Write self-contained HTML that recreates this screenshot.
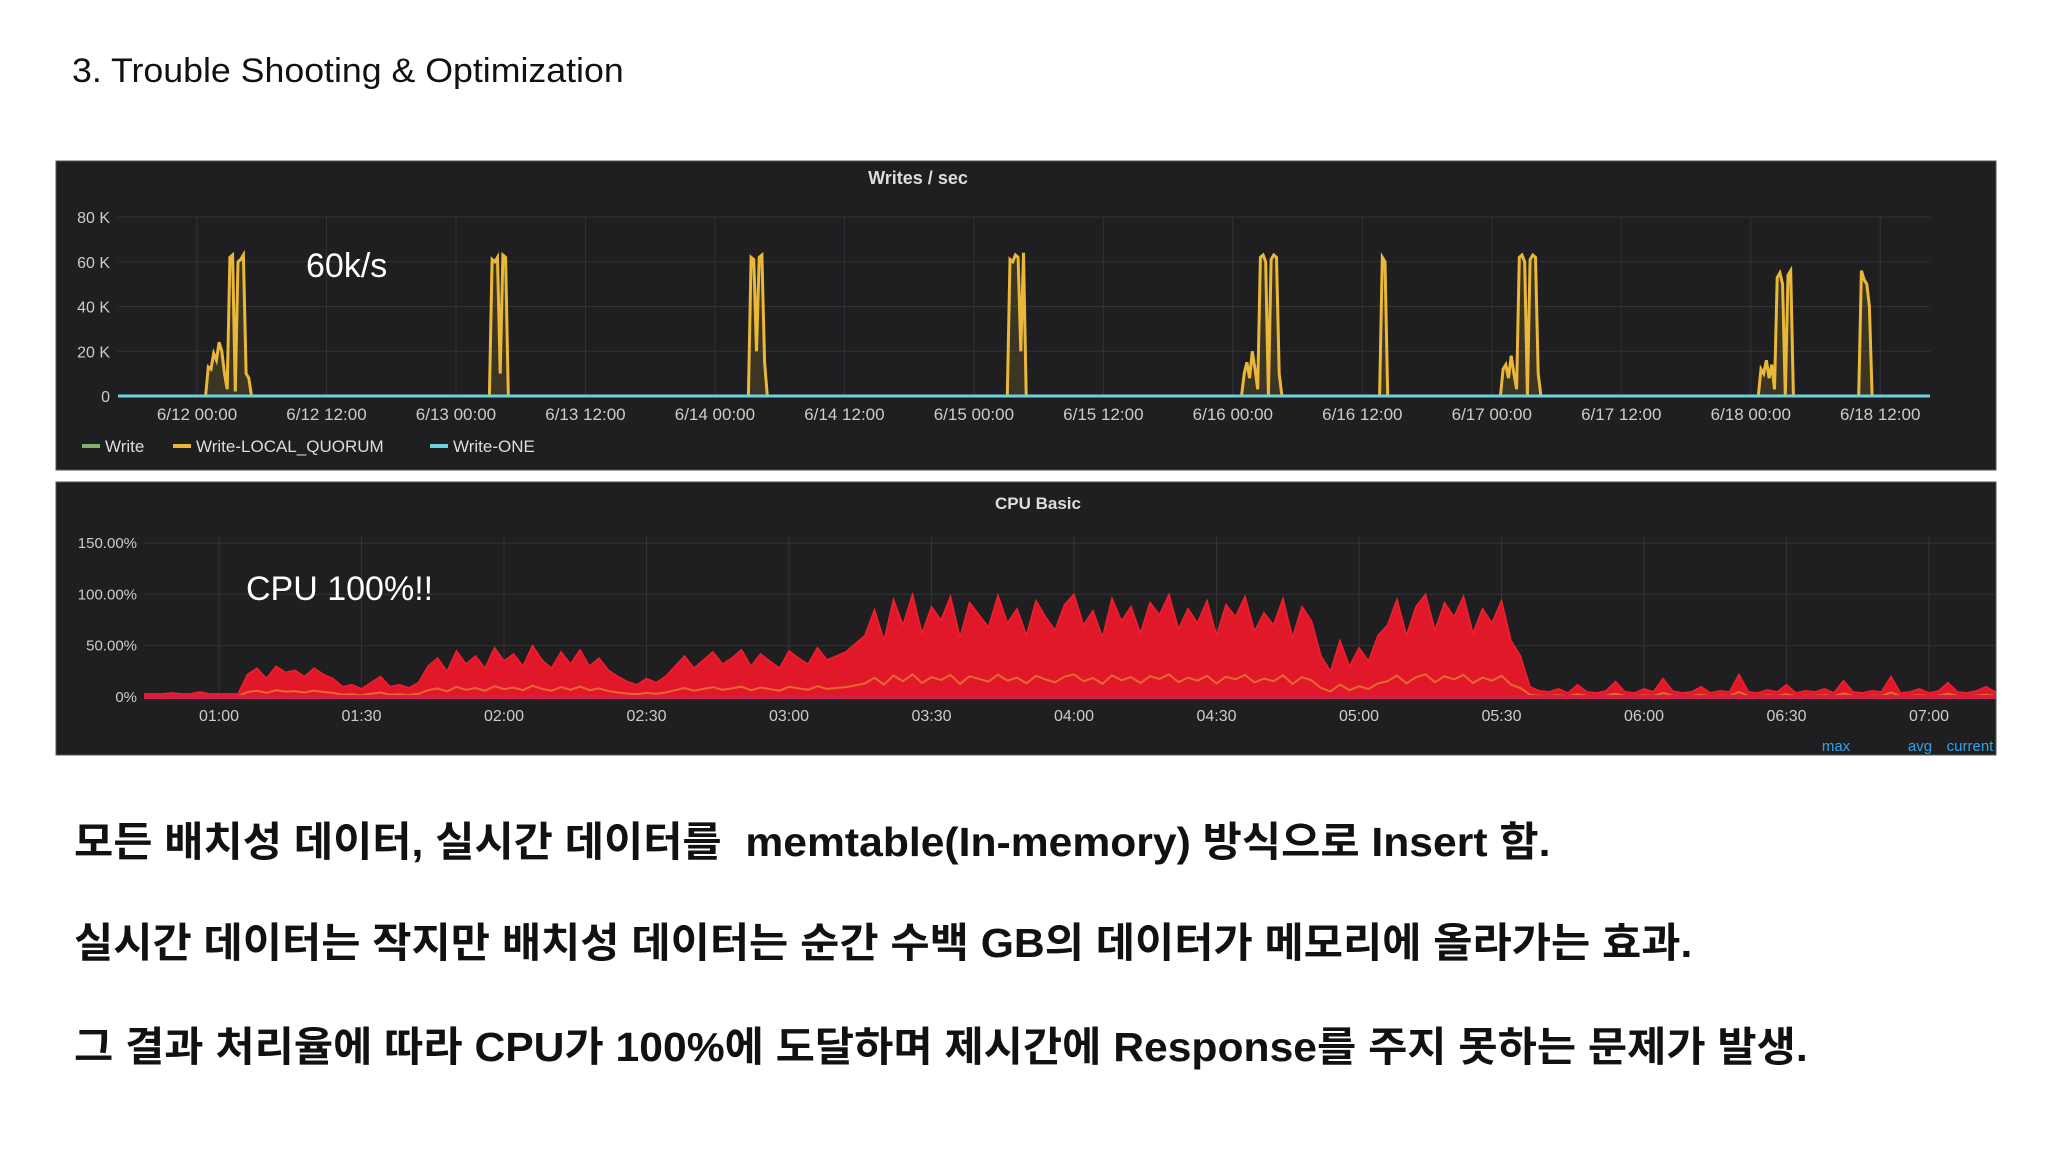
<!DOCTYPE html>
<html><head><meta charset="utf-8">
<style>
body{margin:0;width:2048px;height:1152px;background:#fff;position:relative;overflow:hidden;font-family:"Liberation Sans","Noto Sans CJK KR",sans-serif}
.t{position:absolute;white-space:nowrap}
.k{position:absolute;left:74px;font-weight:bold;font-size:41px;color:#111;font-family:"Liberation Sans","Noto Sans CJK KR",sans-serif;white-space:nowrap;line-height:1;transform-origin:0 0;transform:scaleX(1.04)}
</style></head><body>
<div class="t" style="left:72px;top:52px;font-size:34px;color:#111;transform-origin:0 0;transform:scaleX(1.05)">3. Trouble Shooting &amp; Optimization</div>
<svg id="c" width="2048" height="1152" style="position:absolute;left:0;top:0">
<defs><clipPath id="cpuclip"><rect x="144" y="482" width="1852" height="273"/></clipPath></defs>
</svg>
<div class="k" style="top:822px">모든 배치성 데이터, 실시간 데이터를&nbsp; memtable(In-memory) 방식으로 Insert 함.</div>
<div class="k" style="top:923px">실시간 데이터는 작지만 배치성 데이터는 순간 수백 GB의 데이터가 메모리에 올라가는 효과.</div>
<div class="k" style="top:1027px">그 결과 처리율에 따라 CPU가 100%에 도달하며 제시간에 Response를 주지 못하는 문제가 발생.</div>
<script>
const wTicksY=[0,20,40,60,80];
const wTickLabelsY=["0","20 K","40 K","60 K","80 K"];
const wTickLabelsX=["6/12 00:00","6/12 12:00","6/13 00:00","6/13 12:00","6/14 00:00","6/14 12:00","6/15 00:00","6/15 12:00","6/16 00:00","6/16 12:00","6/17 00:00","6/17 12:00","6/18 00:00","6/18 12:00"];
const burstStart=[0.8,27.1,51.1,75.1,96.8,109.6,120.8,144.7,154];
const burstValues=[
[0,13,12,19,16,24,20,10,3,62,63,2,60,61,63,10,8,0,0],
[0,61,60,62,10,63,62,0],
[0,62,61,20,62,63,15,0],
[0,61,60,63,62,20,64,0],
[0,10,15,8,20,12,3,62,63,60,0,61,63,62,10,0,0],
[0,62,60,0],
[0,12,14,8,18,10,3,62,63,60,0,61,63,62,10,0],
[0,12,10,16,8,14,3,53,55,50,0,54,56,0],
[0,56,52,50,40,0]];
const cTicksY=[0,50,100,150];
const cTickLabelsY=["0%","50.00%","100.00%","150.00%"];
const cTickLabelsX=["01:00","01:30","02:00","02:30","03:00","03:30","04:00","04:30","05:00","05:30","06:00","06:30","07:00"];
const cpuStartMin=44;
const cpuValues=[3,3,3,4,3,3,5,3,3,3,3,
22,28,18,30,24,26,20,28,22,18,
10,12,8,14,20,10,12,9,14,
30,38,25,45,32,40,28,48,35,42,30,50,36,28,44,32,46,30,38,26,20,
15,12,18,14,20,
30,40,28,36,44,32,38,46,30,42,35,28,45,38,32,48,36,40,44,52,
60,85,55,95,70,100,62,88,75,98,58,92,80,68,99,72,86,60,94,78,65,90,100,70,84,58,96,74,88,62,92,80,100,66,86,72,94,60,90,78,98,64,82,70,96,58,88,74,
40,25,55,30,48,35,60,
70,95,60,88,100,65,92,78,98,62,86,72,94,55,40,
10,6,5,8,4,12,5,4,6,15,5,4,8,5,18,6,4,5,10,4,6,5,22,5,4,7,5,12,4,6,5,8,4,16,5,4,6,5,20,4,5,8,4,6,14,5,4,6,10,5,12];
const svg=document.getElementById('c');const NS='http://www.w3.org/2000/svg';
function mk(t,a,txt){const e=document.createElementNS(NS,t);for(const k in a)e.setAttribute(k,a[k]);if(txt!=null)e.textContent=txt;svg.appendChild(e);return e;}
let p=mk('rect',{x:56,y:161,width:1940,height:309,fill:'#1f1f21',stroke:'#555',"stroke-width":1});

let e=mk('text',{x:918,y:184,fill:'#ddd',"font-size":18,"font-weight":"bold","text-anchor":"middle"},'Writes / sec');

const wx=h=>197+h*10.79, wy=v=>396-v*2.2375;
wTicksY.forEach((v,i)=>{mk('line',{x1:118,x2:1930,y1:wy(v),y2:wy(v),stroke:'#333336'});
 e=mk('text',{x:110,y:wy(v)+6,fill:'#ccc',"font-size":16,"text-anchor":"end"},wTickLabelsY[i]);
 });
wTickLabelsX.forEach((l,i)=>{const x=wx(i*12);mk('line',{x1:x,x2:x,y1:wy(80),y2:wy(0),stroke:'#333336'});
 e=mk('text',{x:x,y:420,fill:'#ccc',"font-size":17,"text-anchor":"middle"},l);
 });
burstStart.forEach((s,b)=>{const pts=burstValues[b].map((v,i)=>wx(s+i*0.25).toFixed(1)+','+wy(v).toFixed(1));
 e=mk('polygon',{points:wx(s)+','+wy(0)+' '+pts.join(' ')+' '+wx(s+(burstValues[b].length-1)*0.25)+','+wy(0),fill:'rgba(234,184,57,0.15)',stroke:'#eab839',"stroke-width":3});
 });
e=mk('line',{x1:118,x2:1930,y1:wy(0),y2:wy(0),stroke:'#6ed0e0',"stroke-width":3});

const leg=[["Write","#7eb26d",82],["Write-LOCAL_QUORUM","#eab839",173],["Write-ONE","#6ed0e0",430]];
leg.forEach(l=>{mk('rect',{x:l[2],y:444,width:18,height:4,fill:l[1]});
 e=mk('text',{x:l[2]+23,y:452,fill:'#ddd',"font-size":17},l[0]);
 });
e=mk('text',{x:306,y:277,fill:'#fff',"font-size":34},'60k/s');

p=mk('rect',{x:56,y:482,width:1940,height:273,fill:'#1f1f21',stroke:'#555',"stroke-width":1});

e=mk('text',{x:1038,y:509,fill:'#ddd',"font-size":17,"font-weight":"bold","text-anchor":"middle"},'CPU Basic');

const cx=m=>219+(m-60)*4.75, cy=v=>697-v*1.027;
cTicksY.forEach((v,i)=>{mk('line',{x1:144,x2:1996,y1:cy(v),y2:cy(v),stroke:'#333336'});
 e=mk('text',{x:137,y:cy(v)+5,fill:'#ccc',"font-size":15,"text-anchor":"end"},cTickLabelsY[i]);
 });
cTickLabelsX.forEach((l,i)=>{const x=cx(60+i*30);mk('line',{x1:x,x2:x,y1:cy(150)-8,y2:cy(0),stroke:'#333336'});
 e=mk('text',{x:x,y:721,fill:'#ccc',"font-size":16,"text-anchor":"middle"},l);
 });
let pts=cpuValues.map((v,i)=>cx(cpuStartMin+i*2).toFixed(1)+','+cy(v).toFixed(1));
const xe=cx(cpuStartMin+(cpuValues.length-1)*2);
e=mk('polygon',{points:cx(cpuStartMin)+','+cy(0)+' '+pts.join(' ')+' '+xe+','+cy(0),fill:'#e0182a',stroke:'#f0202e',"stroke-width":1.5,"clip-path":"url(#cpuclip)"});

pts=cpuValues.map((v,i)=>cx(cpuStartMin+i*2).toFixed(1)+','+cy(v*0.22).toFixed(1));
e=mk('polyline',{points:pts.join(' '),fill:'none',stroke:'#e8a030',"stroke-width":2,opacity:0.6,"clip-path":"url(#cpuclip)"});

mk('line',{x1:144,x2:1996,y1:cy(0),y2:cy(0),stroke:'#d0204a',"stroke-width":4});
[["max",1836],["avg",1920],["current",1970]].forEach(l=>{e=mk('text',{x:l[1],y:751,fill:'#33a2e5',"font-size":15,"text-anchor":"middle"},l[0]);
 });
e=mk('text',{x:246,y:600,fill:'#fff',"font-size":34},'CPU 100%!!');

</script>
</body></html>
